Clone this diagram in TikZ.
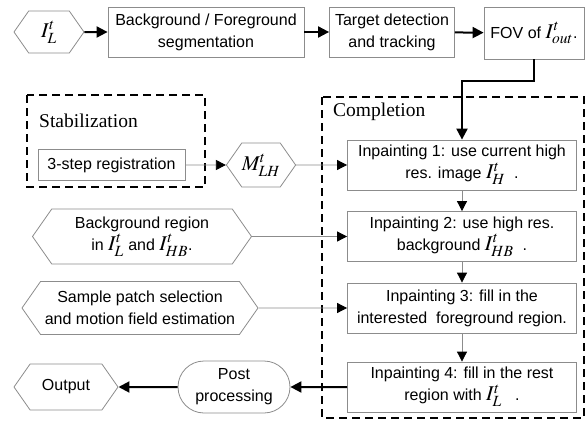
\documentclass[tikz,border=0pt]{standalone}
\usepackage{mathptmx}
\usepackage{fontspec}
\setmainfont{Liberation Sans}
\newfontfamily\titlefont{Liberation Serif}
\usetikzlibrary{arrows.meta,shapes.symbols,shapes.misc}

\newcommand{\mth}[1]{{\fontsize{21}{21}\selectfont$#1$}}

\begin{document}
\begin{tikzpicture}[x=1pt, y=-1pt,
    every node/.style={font=\fontsize{16}{22}\selectfont, align=center, inner sep=0pt},
    box/.style={draw=black!45, line width=0.8pt, minimum height=50pt},
    hexa/.style={draw=black!45, line width=0.8pt, signal, signal to=west and east, signal pointer angle=110},
    title/.style={font=\titlefont\fontsize{19.5}{20}\selectfont, anchor=west},
    flow/.style={line width=2pt, -{Triangle[length=11pt,width=11pt]}},
    link/.style={draw=black!45, line width=0.8pt, -{Triangle[length=10pt,width=10pt,color=black]}},
    group/.style={line width=1.8pt, dash pattern=on 8pt off 5pt}]
    \useasboundingbox (0,0) rectangle (587,423);

    % Top row
    \node[hexa, minimum width=70pt, minimum height=42pt] (inL) at (49,32) {\mth{I_L^t}};
    \node[box, minimum width=196pt] (seg) at (206,32) {Background / Foreground\\segmentation};
    \node[box, minimum width=125pt] (det) at (392,32) {Target detection\\and tracking};
    \node[box, minimum width=100pt, minimum height=52pt] (fov) at (534,33) {FOV of \mth{I_{out}^t}.};

    % Stabilization
    \draw[group] (27,95) rectangle (205,187);
    \node[title] (stab) at (39,121) {Stabilization};
    \node[box, minimum width=147pt, minimum height=31pt] (reg) at (111.5,165) {3-step registration};
    \node[hexa, minimum width=62pt, minimum height=44pt] (mlh) at (261,165) {\mth{M_{LH}^t}};

    % Completion
    \draw[group] (322,97) rectangle (584,418);
    \node[title] (comp) at (333,112) {Completion};
    \node[box, minimum width=229pt] (inp1) at (462,165) {Inpainting 1: use current high\\res. image\ \mth{I_H^t}\ \ .};
    \node[box, minimum width=229pt] (inp2) at (462,236.5) {Inpainting 2: use high res.\\background\ \mth{I_{HB}^t}\ \ .};
    \node[box, minimum width=229pt] (inp3) at (462,308) {Inpainting 3: fill in the\\interested\ \ foreground region.};
    \node[box, minimum width=229pt] (inp4) at (462,387) {Inpainting 4: fill in the rest\\region with\ \mth{I_L^t}\ \ \ .};

    % Inputs and output
    \node[hexa, minimum width=219pt, minimum height=55pt] (bgr) at (142,236.5) {Background region\\in\ \mth{I_L^t} and \mth{I_{HB}^t}.};
    \node[hexa, minimum width=236pt, minimum height=53pt] (spm) at (140,308) {Sample patch selection\\and motion field estimation};
    \node[rounded rectangle, draw=black!45, line width=0.8pt, minimum width=112pt, minimum height=52pt] (post) at (234,387) {Post\\processing};
    \node[hexa, minimum width=104pt, minimum height=46pt] (out) at (66,387) {Output};

    % Connectors
    \draw[flow] (inL) -- (seg);
    \draw[flow] (seg) -- (det);
    \draw[flow] (det) -- (fov);
    \draw[flow] (fov.south) -- ++(0,22) -| (inp1.north);
    \draw[link] (reg) -- (mlh);
    \draw[link] (mlh) -- (inp1);
    \draw[link] (bgr) -- (inp2);
    \draw[link] (spm) -- (inp3);
    \draw[link] (inp1) -- (inp2);
    \draw[link] (inp2) -- (inp3);
    \draw[link] (inp3) -- (inp4);
    \draw[flow] (inp4) -- (post);
    \draw[flow] (post) -- (out);
\end{tikzpicture}
\end{document}
